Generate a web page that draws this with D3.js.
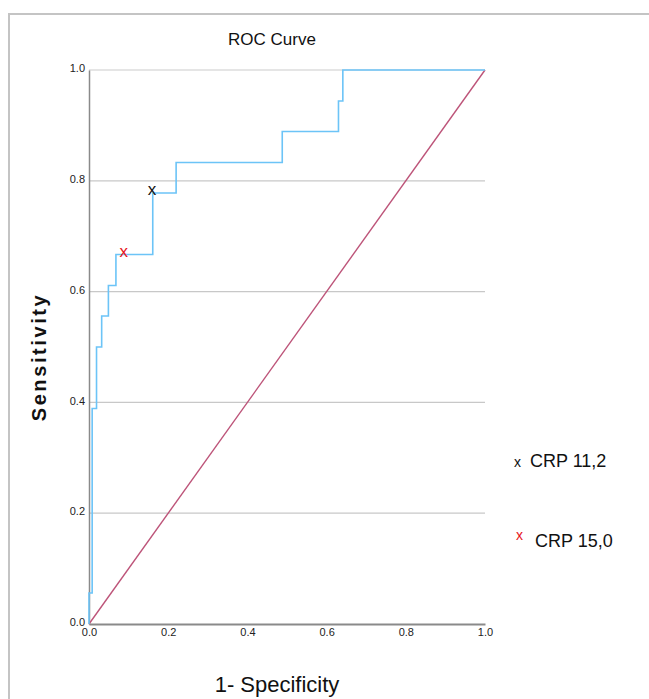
<!DOCTYPE html>
<html><head><meta charset="utf-8">
<script src="https://cdn.jsdelivr.net/npm/d3@7"></script>
<style>body{margin:0;background:#fff}svg{display:block}</style>
</head><body>
<script>
// ROC curve step points (1-specificity, sensitivity)
const rocX = [0, 0, 0.008, 0.008, 0.019, 0.019, 0.032, 0.032, 0.049, 0.049, 0.068, 0.068, 0.161, 0.161, 0.220, 0.220, 0.488, 0.488, 0.630, 0.630, 0.641, 0.641, 1.0];
const rocY = [0, 0.056, 0.056, 0.389, 0.389, 0.500, 0.500, 0.556, 0.556, 0.611, 0.611, 0.667, 0.667, 0.778, 0.778, 0.833, 0.833, 0.889, 0.889, 0.944, 0.944, 1.0, 1.0];
const refX = [0, 1];
const refY = [0, 1];
const cutLabels = ["CRP 11,2", "CRP 15,0"];
const cutX = [0.159, 0.088];
const cutY = [0.785, 0.673];
const cutColors = ["#111", "#e8141c"];
const ticks = [0, 0.2, 0.4, 0.6, 0.8, 1.0];

const W = 649, H = 699;
const font = "'Liberation Sans Narrow', 'Liberation Sans', Arial, sans-serif";
const svg = d3.select("body").append("svg").attr("width", W).attr("height", H);

// outer frame
svg.append("rect").attr("x", 9).attr("y", 14).attr("width", 660).attr("height", 700)
  .attr("fill", "none").attr("stroke", "#c4c4c4").attr("stroke-width", 2);

const x = d3.scaleLinear().domain([0, 1]).range([89, 485]);
const y = d3.scaleLinear().domain([0, 1]).range([624, 70]);

// grid lines
svg.append("g").selectAll("line").data(ticks.filter(t => t > 0)).join("line")
  .attr("x1", x(0)).attr("x2", x(1)).attr("y1", d => y(d)).attr("y2", d => y(d))
  .attr("stroke", d => d === 1 ? "#dcdcdc" : "#c8c8c8").attr("stroke-width", 1.3);

// axes
const yAxis = svg.append("g").attr("transform", `translate(${x(0)},0)`)
  .call(d3.axisLeft(y).tickValues(ticks).tickFormat(d3.format(".1f")).tickSize(0).tickPadding(4));
const xAxis = svg.append("g").attr("transform", `translate(0,${y(0)})`)
  .call(d3.axisBottom(x).tickValues(ticks).tickFormat(d3.format(".1f")).tickSize(0).tickPadding(4));
[yAxis, xAxis].forEach(g => {
  g.selectAll("text").attr("font-family", font).attr("font-size", 11).attr("fill", "#222");
});
yAxis.select(".domain").attr("stroke", "#8a8a8a").attr("stroke-width", 1.5);
xAxis.select(".domain").attr("stroke", "#8a8a8a").attr("stroke-width", 2);
yAxis.selectAll(".tick text").attr("dy", "0.15em");

// reference diagonal
const line = d3.line().x(d => x(d[0])).y(d => y(d[1]));
svg.append("path").datum(refX.map((v, i) => [v, refY[i]]))
  .attr("d", line).attr("fill", "none").attr("stroke", "#bd5479").attr("stroke-width", 1.4);

// ROC curve
svg.append("path").datum(rocX.map((v, i) => [v, rocY[i]]))
  .attr("d", line).attr("fill", "none").attr("stroke", "#6cc4f7").attr("stroke-width", 1.6);

// cutoff markers
svg.append("g").selectAll("text").data(cutLabels).join("text")
  .attr("x", (d, i) => x(cutX[i])).attr("y", (d, i) => y(cutY[i]))
  .attr("text-anchor", "middle").attr("dominant-baseline", "central")
  .attr("font-family", font).attr("font-size", 17).attr("fill", (d, i) => cutColors[i])
  .text("x");

// legend
const legY = [462, 542];
const leg = svg.append("g").selectAll("g").data(cutLabels).join("g")
  .attr("transform", (d, i) => `translate(${i === 0 ? 514 : 516},${legY[i]})`);
leg.append("text").attr("x", 0).attr("y", (d, i) => i === 0 ? 5 : -2)
  .attr("font-family", font).attr("font-size", 14).attr("fill", (d, i) => cutColors[i]).text("x");
leg.append("text").attr("x", (d, i) => i === 0 ? 16 : 19).attr("y", 5)
  .attr("font-family", font).attr("font-size", 18).attr("fill", "#111").text(d => d);

// titles
svg.append("text").attr("x", 272).attr("y", 45).attr("text-anchor", "middle")
  .attr("font-family", font).attr("font-size", 17).attr("fill", "#111").text("ROC Curve");
svg.append("text").attr("x", 277).attr("y", 692).attr("text-anchor", "middle")
  .attr("font-family", font).attr("font-size", 22).attr("fill", "#111").text("1- Specificity");
svg.append("text").attr("transform", "translate(46,357) rotate(-90)").attr("text-anchor", "middle")
  .attr("font-family", "'Liberation Sans', Arial, sans-serif").attr("font-size", 20)
  .attr("font-weight", 600).attr("letter-spacing", "2.6").attr("fill", "#111").text("Sensitivity");
</script>
</body></html>
